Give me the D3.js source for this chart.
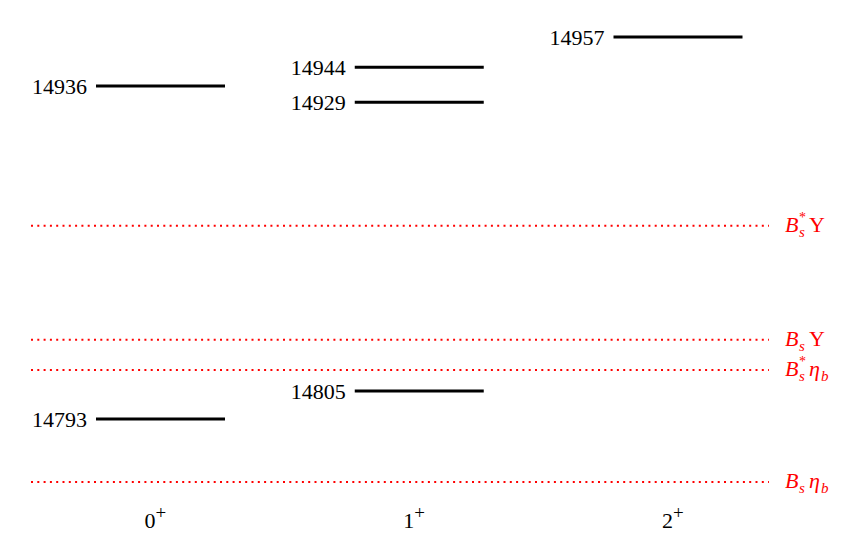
<!DOCTYPE html>
<html>
<head>
<meta charset="utf-8">
<script src="https://cdn.jsdelivr.net/npm/d3@7"></script>
<style>
  body { margin: 0; background: #fff; }
  text { font-family: "Liberation Serif", "DejaVu Serif", serif; }
</style>
</head>
<body>
<div id="chart"></div>
<script>
// states (MeV), grouped by J^P
var categories = ["0", "1", "2"];
var levelCat = ["0", "0", "1", "1", "1", "2"];
var levelMass = [14936, 14793, 14944, 14929, 14805, 14957];

// two-meson thresholds (MeV)
var thrMass = [14876, 14827, 14814, 14766];
var thrStar = [true, false, true, false];
var thrSecond = ["\u03A5", "\u03A5", "\u03B7", "\u03B7"];
var thrSecondSub = ["", "", "b", "b"];

var width = 863, height = 559;
var svg = d3.select("#chart").append("svg")
    .attr("width", width)
    .attr("height", height);

var y = d3.scaleLinear().domain([14793, 14957]).range([419, 37]);
var x = d3.scalePoint().domain(categories).range([160.5, 678]);
var half = 64.5;

// thresholds, dotted red
svg.selectAll("line.thr")
  .data(thrMass)
  .enter().append("line")
    .attr("class", "thr")
    .attr("x1", 31).attr("x2", 769)
    .attr("y1", function(d) { return y(d); })
    .attr("y2", function(d) { return y(d); })
    .attr("stroke", "#ff0000")
    .attr("stroke-width", 2)
    .attr("stroke-dasharray", "2,4.3");

// labels: B_s^(*) + Upsilon / eta_b, pieces as separate texts
var lab = svg.selectAll("g.thr")
  .data(thrMass)
  .enter().append("g")
    .attr("class", "thr")
    .attr("fill", "#ff0000")
    .attr("transform", function(d) { return "translate(785," + (y(d) + 6) + ")"; });

lab.each(function(d, i) {
  var g = d3.select(this);
  g.append("text").attr("font-size", 22).attr("font-style", "italic").text("B");
  if (thrStar[i]) {
    g.append("text").attr("x", 14).attr("y", -10).attr("font-size", 14).text("*");
  }
  g.append("text").attr("x", 14).attr("y", 5).attr("font-size", 15)
    .attr("font-style", "italic").text("s");
  var isEta = thrSecondSub[i] !== "";
  g.append("text").attr("x", 24).attr("font-size", 22)
    .attr("font-style", isEta ? "italic" : "normal").text(thrSecond[i]);
  if (isEta) {
    g.append("text").attr("x", 36).attr("y", 5).attr("font-size", 15)
      .attr("font-style", "italic").text(thrSecondSub[i]);
  }
});

// levels
var idx = d3.range(levelMass.length);
svg.selectAll("line.lev")
  .data(idx)
  .enter().append("line")
    .attr("class", "lev")
    .attr("x1", function(i) { return x(levelCat[i]) - half; })
    .attr("x2", function(i) { return x(levelCat[i]) + half; })
    .attr("y1", function(i) { return y(levelMass[i]); })
    .attr("y2", function(i) { return y(levelMass[i]); })
    .attr("stroke", "#000")
    .attr("stroke-width", 3);

svg.selectAll("text.lev")
  .data(idx)
  .enter().append("text")
    .attr("class", "lev")
    .attr("x", function(i) { return x(levelCat[i]) - half - 9; })
    .attr("y", function(i) { return y(levelMass[i]) + 8; })
    .attr("text-anchor", "end")
    .attr("font-size", 22)
    .text(function(i) { return levelMass[i]; });

// J^P labels along the bottom
var tick = svg.selectAll("text.tick")
  .data(categories)
  .enter().append("text")
    .attr("class", "tick")
    .attr("x", function(d) { return x(d) - 16; })
    .attr("y", 528)
    .attr("font-size", 22);
tick.append("tspan").text(function(d) { return d; });
tick.append("tspan").attr("font-size", 19).attr("dy", -9).text("+");
</script>
</body>
</html>
